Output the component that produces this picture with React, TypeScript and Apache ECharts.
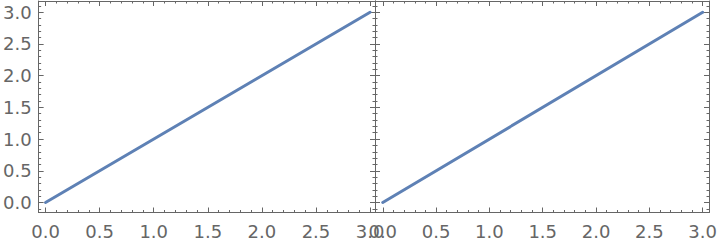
import React, { useEffect, useRef } from "react";
import * as echarts from "echarts";

// Data (both panels show the same line)
const lineX: number[] = [0, 3];
const lineY: number[] = [0, 3];
const panelCount = 2;

const GREY = "#666666";
const LINE_COLOR = "#5e81b5";

const fmt = (v: number) =>
  Math.abs(v * 2 - Math.round(v * 2)) < 1e-6 ? (Math.round(v * 10) / 10).toFixed(1) : "";

export default function App() {
  const ref = useRef<HTMLDivElement>(null);
  useEffect(() => {
    if (!ref.current) return;
    const chart = echarts.init(ref.current, undefined, { renderer: "svg" });
    const grids = [
      { left: 34, top: 1, width: 341, height: 211.5 },
      { left: 375, top: 1, width: 344, height: 211.5 },
    ];
    const xRanges = [
      [-0.0638, 3.0456],
      [-0.0728, 3.0594],
    ];
    const yRange = [-0.158, 3.178];
    const axisCommon = (showLabel: boolean, pos: string, isX: boolean) => ({
      type: "value",
      position: pos,
      minInterval: 0.5,
      maxInterval: 0.5,
      axisLine: { show: true, onZero: false, lineStyle: { color: GREY, width: 1 } },
      axisTick: { show: true, inside: true, length: 5, lineStyle: { color: GREY, width: 1 } },
      minorTick: { show: true, splitNumber: 5, length: 2.5, lineStyle: { color: GREY, width: 1 } },
      splitLine: { show: false },
      minorSplitLine: { show: false },
      axisLabel: {
        show: showLabel,
        formatter: fmt,
        color: GREY,
        fontFamily: "DejaVu Sans",
        fontSize: 18,
        margin: isX ? 10 : 7,
        showMinLabel: true,
        showMaxLabel: true,
        hideOverlap: false,
      },
    });
    const xAxis: any[] = [];
    const yAxis: any[] = [];
    const series: any[] = [];
    for (let i = 0; i < panelCount; i++) {
      xAxis.push({ ...axisCommon(true, "bottom", true), gridIndex: i, min: xRanges[i][0], max: xRanges[i][1] });
      xAxis.push({ ...axisCommon(false, "top", true), gridIndex: i, min: xRanges[i][0], max: xRanges[i][1] });
      yAxis.push({ ...axisCommon(i === 0, "left", false), gridIndex: i, min: yRange[0], max: yRange[1] });
      yAxis.push({ ...axisCommon(false, "right", false), gridIndex: i, min: yRange[0], max: yRange[1] });
      series.push({
        type: "line",
        xAxisIndex: i * 2,
        yAxisIndex: i * 2,
        data: lineX.map((x, k) => [x, lineY[k]]),
        showSymbol: false,
        symbol: "none",
        lineStyle: { color: LINE_COLOR, width: 3, cap: "round" },
        clip: false,
      });
    }
    chart.setOption({
      animation: false,
      backgroundColor: "#ffffff",
      grid: grids.map((g) => ({ ...g, containLabel: false })),
      xAxis,
      yAxis,
      series,
    });
    return () => chart.dispose();
  }, []);
  return (
    <div
      ref={ref}
      style={{ position: "fixed", left: 0, top: 0, width: 720, height: 242 }}
    />
  );
}
